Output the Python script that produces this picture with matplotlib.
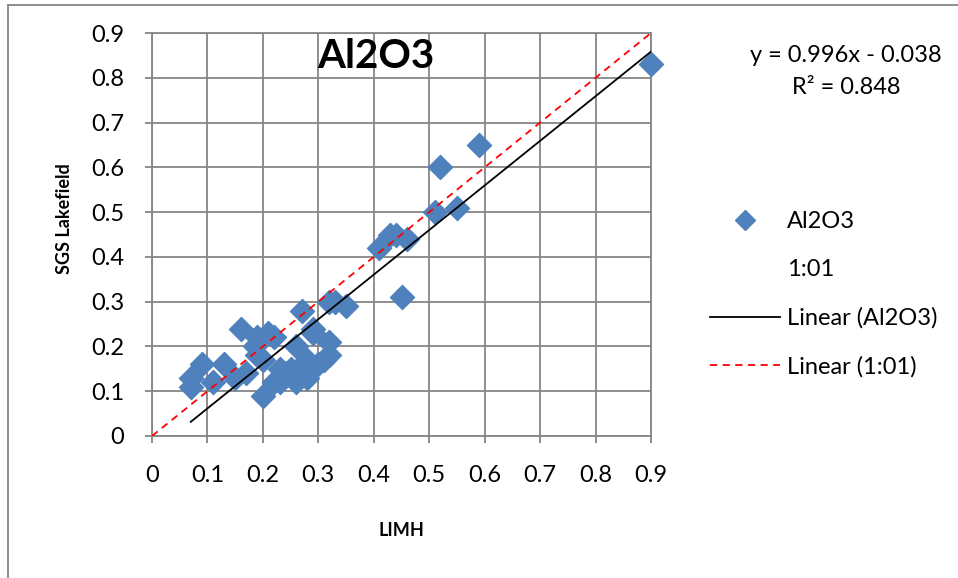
import numpy as np
import matplotlib.pyplot as plt
from matplotlib.lines import Line2D

plt.rcParams['font.family'] = ['Lato', 'DejaVu Sans']

# LIMH (x) vs SGS Lakefield (y)
limh = [0.07, 0.07, 0.09, 0.11, 0.13, 0.15, 0.16, 0.17, 0.185, 0.19,
        0.19, 0.20, 0.20, 0.21, 0.22, 0.22, 0.23, 0.23, 0.24, 0.25,
        0.26, 0.26, 0.27, 0.27, 0.28, 0.28, 0.29, 0.29, 0.30, 0.31,
        0.32, 0.32, 0.32, 0.33, 0.35, 0.41, 0.43, 0.44, 0.45, 0.46,
        0.51, 0.52, 0.55, 0.59, 0.90]
sgs = [0.11, 0.13, 0.16, 0.12, 0.16, 0.13, 0.24, 0.14, 0.20, 0.22,
       0.18, 0.09, 0.17, 0.23, 0.22, 0.12, 0.15, 0.12, 0.14, 0.15,
       0.20, 0.12, 0.28, 0.15, 0.17, 0.13, 0.24, 0.23, 0.16, 0.17,
       0.21, 0.18, 0.30, 0.30, 0.29, 0.42, 0.45, 0.45, 0.31, 0.44,
       0.50, 0.60, 0.51, 0.65, 0.83]
one_to_one = [0.0, 0.9]
slope, intercept = 0.996, -0.038
ticks = [0, 0.1, 0.2, 0.3, 0.4, 0.5, 0.6, 0.7, 0.8, 0.9]

blue = '#4F81BD'
grid_c = '#868686'
fs = 17

fig = plt.figure(figsize=(9.58, 5.78), dpi=100)
ax = fig.add_axes([152/958, 1-436/578, 499/958, 403/578])

ax.scatter(limh, sgs, marker='D', s=150, color=blue, edgecolors=blue,
           zorder=3, clip_on=False)
xt = np.array([min(limh), max(limh)])
ax.plot(xt, slope*xt + intercept, color='black', lw=1.3, zorder=4)
ax.plot(one_to_one, one_to_one, color='red', lw=1.3, ls=(0, (4, 3)), zorder=4)

ax.set_xlim(0, 0.9)
ax.set_ylim(0, 0.9)
ax.set_xticks(ticks)
ax.set_yticks(ticks)
ax.set_xticklabels([f'{t:g}' for t in ticks])
ax.set_yticklabels([f'{t:g}' for t in ticks])
ax.grid(True, color=grid_c, lw=1.3)
ax.set_axisbelow(True)
for s in ax.spines.values():
    s.set_color(grid_c)
    s.set_linewidth(1.3)
ax.tick_params(colors=grid_c, labelcolor='black', labelsize=fs, length=5, width=1.3)
ax.tick_params(axis='y', pad=15)
ax.tick_params(axis='x', pad=16)

ax.set_xlabel('LIMH', fontsize=13, fontweight='bold', labelpad=26)
ax.set_ylabel('SGS Lakefield', fontsize=13, fontweight='bold', labelpad=13)
ax.yaxis.label.set_y(0.54)
ax.text(376/958, 1-57/578, 'Al2O3', transform=fig.transFigure, fontsize=29,
        fontweight='bold', ha='center', va='center')

# equation
fig.text(846/958, 1-55/578, 'y = 0.996x - 0.038', fontsize=fs, ha='center', va='center')
fig.text(846/958, 1-87/578, 'R² = 0.848', fontsize=fs, ha='center', va='center')

handles = [
    Line2D([], [], marker='D', color=blue, ls='none', markersize=10),
    Line2D([], [], ls='none'),
    Line2D([], [], color='black', lw=1.3),
    Line2D([], [], color='red', lw=1.3, ls=(0, (4, 3))),
]
labels = ['Al2O3', '1:01', 'Linear (Al2O3)', 'Linear (1:01)']
fig.legend(handles, labels, loc='upper left', bbox_to_anchor=(710/958, 1-211/578),
           frameon=False, fontsize=fs, handlelength=2.95, handletextpad=0.3,
           labelspacing=1.15, borderaxespad=0, borderpad=0)

# outer chart border
fig.add_artist(Line2D([8/958, 1], [1-5/578, 1-5/578], color=grid_c, lw=1.3))
fig.add_artist(Line2D([8/958, 8/958], [0, 1-5/578], color=grid_c, lw=1.3))

plt.savefig('out.png', dpi=100)
